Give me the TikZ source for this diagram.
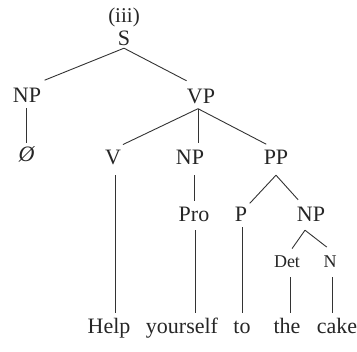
\documentclass[tikz,border=0pt]{standalone}
\usepackage{fontspec}
\setmainfont{Liberation Serif}
\begin{document}
\begin{tikzpicture}[x=1pt,y=-1pt,
  lab/.style={inner sep=0pt,text height=15pt,text depth=0pt,font=\fontsize{22}{24}\selectfont,text=black!85},
  sml/.style={inner sep=0pt,text height=12pt,text depth=0pt,font=\fontsize{18}{20}\selectfont,text=black!85},
  word/.style={inner sep=0pt,anchor=base,text height=15pt,text depth=5pt,font=\fontsize{22}{24}\selectfont,text=black!85},
  edge/.style={draw=black!80,line width=0.9pt}]
\useasboundingbox (0,0) rectangle (357,352);
% nodes
\node[inner sep=0pt,font=\fontsize{21}{24}\selectfont,text=black!85] (iii) at (124,17) {(iii)};
\node[lab] (S) at (124,38) {S};
\node[lab] (NPa) at (27,95) {NP};
\node[lab] (VP) at (201,96) {VP};
\node[lab] (null) at (27,154) {\textit{Ø}};
\node[lab] (V) at (113,157) {V};
\node[lab] (NPb) at (190,157) {NP};
\node[lab] (PP) at (276,157) {PP};
\node[lab] (Pro) at (194,214) {Pro};
\node[lab] (P) at (241,214) {P};
\node[lab] (NPc) at (311,214) {NP};
\node[sml] (Det) at (287,262) {Det};
\node[sml] (N) at (330,262) {N};
\node[word] (help) at (109,334) {Help};
\node[word] (yourself) at (182,334) {yourself};
\node[word] (to) at (242,334) {to};
\node[word] (the) at (287,334) {the};
\node[word] (cake) at (337,334) {cake};
% edges
\draw[edge,shorten >=19pt] ([yshift=-2.5pt]S.south) -- (NPa.north);
\draw[edge,shorten >=16.3pt] ([yshift=-2.5pt]S.south) -- (VP.north);
\draw[edge,shorten <=5.5pt,shorten >=3.5pt] ([xshift=-1pt]NPa.south) -- ([xshift=-1pt]NPa.south |- null.north);
\draw[edge,shorten >=11pt] ([xshift=-3pt,yshift=-5pt]VP.south) -- (V.north);
\draw[edge,shorten >=6.5pt] ([xshift=-3pt,yshift=-5pt]VP.south) -- ([xshift=-3pt]VP.south |- NPb.north);
\draw[edge,shorten >=11pt] ([xshift=-3pt,yshift=-5pt]VP.south) -- (PP.north);
\draw[edge,shorten <=10.5pt,shorten >=6pt] ([xshift=2pt]V.south) -- ([xshift=2pt]V.south |- help.north);
\draw[edge,shorten <=10.5pt,shorten >=5.5pt] (Pro.north |- NPb.south) -- (Pro.north);
\draw[edge,shorten >=4pt] ([yshift=-10.5pt]PP.south) -- ([xshift=6pt]P.north);
\draw[edge,shorten >=8.8pt] ([yshift=-10.5pt]PP.south) -- ([xshift=-7pt]NPc.north);
\draw[edge,shorten <=8.5pt,shorten >=6pt] ([xshift=1pt]Pro.south) -- ([xshift=1pt]Pro.south |- yourself.north);
\draw[edge,shorten <=5.5pt,shorten >=6pt] ([xshift=1pt]P.south) -- ([xshift=1pt]P.south |- to.north);
\draw[edge,shorten >=8.8pt] ([xshift=-6pt,yshift=-8.5pt]NPc.south) -- (Det.north);
\draw[edge,shorten >=14.2pt] ([xshift=-6pt,yshift=-8.5pt]NPc.south) -- ([xshift=8pt]N.north);
\draw[edge,shorten <=9pt,shorten >=6pt] ([xshift=3pt]Det.south) -- ([xshift=3pt]Det.south |- the.north);
\draw[edge,shorten <=9pt,shorten >=6pt] ([xshift=2pt]N.south) -- ([xshift=2pt]N.south |- cake.north);
\end{tikzpicture}
\end{document}
